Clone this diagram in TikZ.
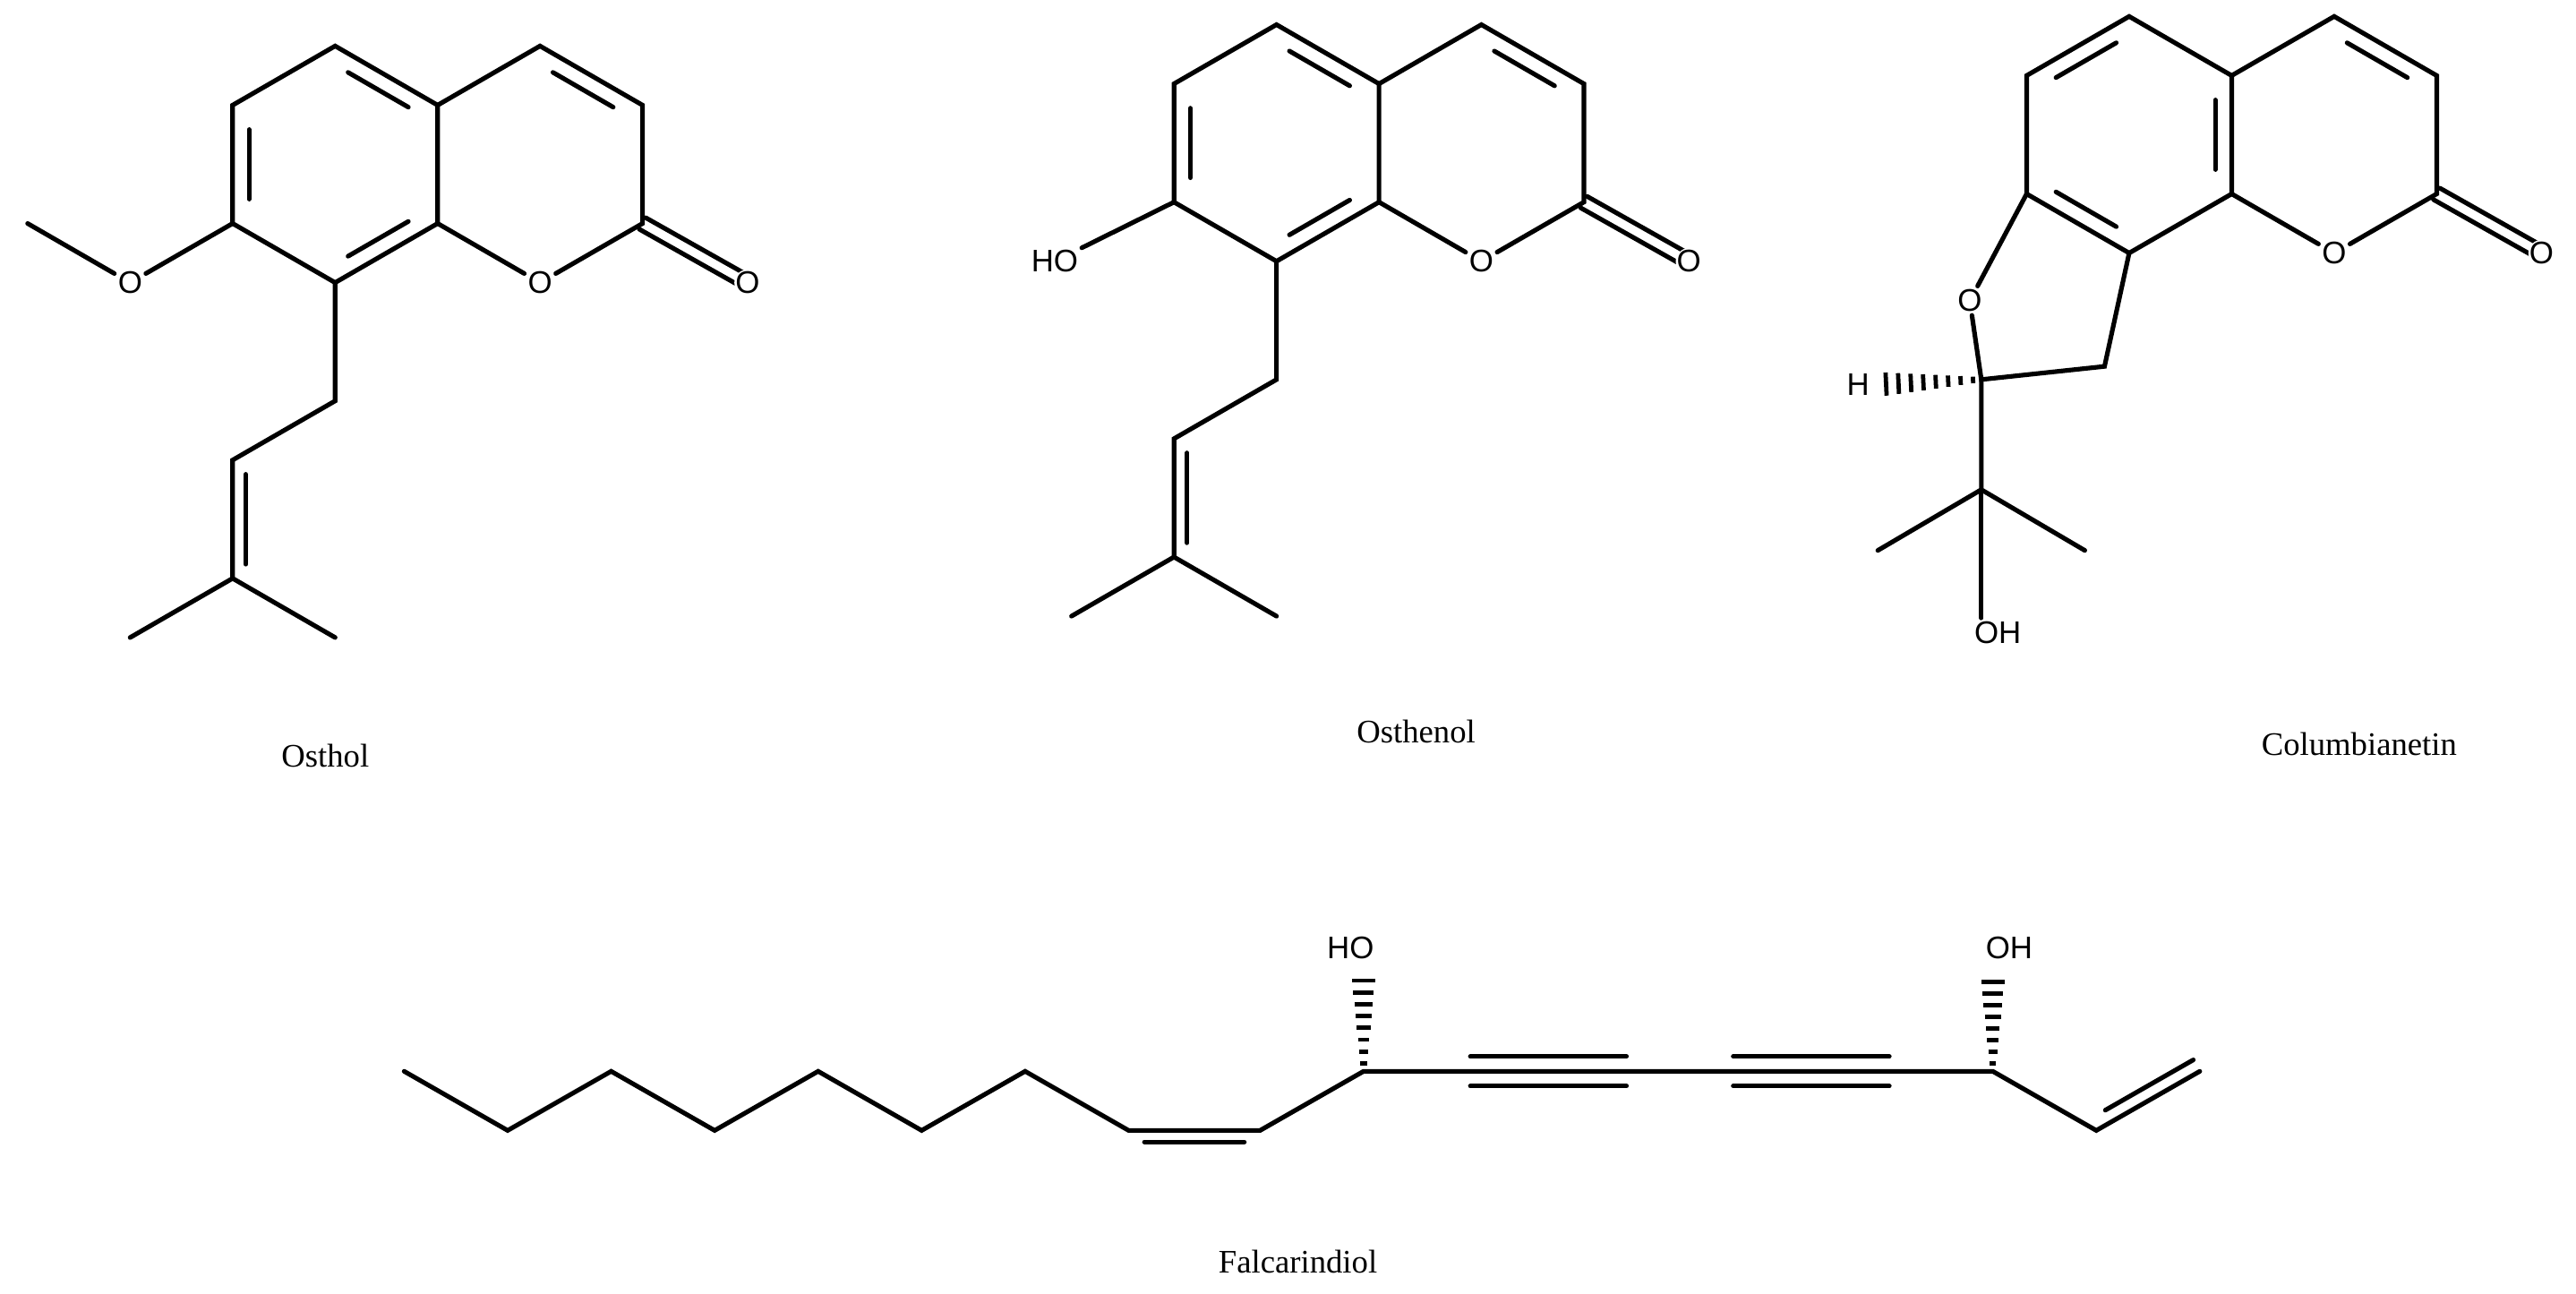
\documentclass[tikz,border=0pt]{standalone}
\usepackage{fontspec}
\setmainfont{Liberation Serif}
\newfontfamily\atomfont{Liberation Sans}
\usetikzlibrary{calc}
\tikzset{bond/.style={line width=2.8pt,line cap=round},
 atom/.style={font=\atomfont\fontsize{19}{19}\selectfont,inner sep=2pt},
 capt/.style={font=\fontsize{20}{20}\selectfont}}
\newcommand\innerb[3]{\path ($(#1)!.15!(#2)$) coordinate (tmpa) ($(#2)!.15!(#1)$) coordinate (tmpb);
 \draw[bond] ($(tmpa)!.16!(#3)$) -- ($(tmpb)!.16!(#3)$);}
\newcommand\hashw[2]{\foreach \t in {0.08,0.2,...,0.96}{\draw[line width=2.6pt] ($(#1)!\t!(#2)!{1.5pt+\t*6pt}!90:(#2)$) -- ($(#1)!\t!(#2)!{1.5pt+\t*6pt}!-90:(#2)$);}}
\begin{document}
\begin{tikzpicture}[x=1pt,y=-1pt]
\useasboundingbox (0,0) rectangle (1568,787);
\foreach \p/\dx/\dy in {os/0/0,oh/573/-13}{
\begin{scope}[shift={(\dx,\dy)}]
\coordinate (\p a1) at (204,28); \coordinate (\p a2) at (266.4,64);
\coordinate (\p a3) at (266.4,136); \coordinate (\p a4) at (204,172);
\coordinate (\p a5) at (141.6,136); \coordinate (\p a6) at (141.6,64);
\coordinate (\p c1) at (204,100); \coordinate (\p c2) at (328.7,100);
\coordinate (\p b1) at (328.7,28); \coordinate (\p b2) at (391.1,64);
\coordinate (\p b3) at (391.1,136);
\node[atom] (\p O1) at (328.7,172) {O};
\node[atom] (\p O2) at (455,172) {O};
\coordinate (\p p1) at (204,244); \coordinate (\p p2) at (141.6,280);
\coordinate (\p p3) at (141.6,352); \coordinate (\p m1) at (79.2,388); \coordinate (\p m2) at (204,388);
\draw[bond] (\p a1)--(\p a2)--(\p a3)--(\p a4)--(\p a5)--(\p a6)--cycle;
\draw[bond] (\p a2)--(\p b1)--(\p b2)--(\p b3)--(\p O1)--(\p a3);
\innerb{\p a5}{\p a6}{\p c1}\innerb{\p a1}{\p a2}{\p c1}\innerb{\p a3}{\p a4}{\p c1}
\innerb{\p b1}{\p b2}{\p c2}
\draw[bond] ($(\p b3)!4pt!90:(\p O2)$) -- ($(\p O2)!4pt!-90:(\p b3)$);
\draw[bond] ($(\p b3)!4pt!-90:(\p O2)$) -- ($(\p O2)!4pt!90:(\p b3)$);
\draw[bond] (\p a4)--(\p p1)--(\p p2)--(\p p3)--(\p m1) (\p p3)--(\p m2);
\draw[bond] ($(\p p2)!.12!(\p p3)!8pt!90:(\p p3)$) -- ($(\p p3)!.12!(\p p2)!8pt!-90:(\p p2)$);
\end{scope}}
\fill[white] (osO2) circle (8); \node[atom] at (osO2) {O};
\fill[white] (ohO2) circle (8); \node[atom] at (ohO2) {O};
\node[atom] (osOm) at (79.2,172) {O};
\coordinate (osMe) at (16.8,136);
\draw[bond] (osa5)--(osOm)--(osMe);
\node[atom] (ohOH) at (642,159) {HO};
\draw[bond] (oha5)--(ohOH);
\node[capt] (c1) at (198,460) {Osthol};
\node[capt] (c2) at (862,445) {Osthenol};
\node[capt] (c3) at (1436,453) {Columbianetin};
\node[capt] (c4) at (790,768) {Falcarindiol};
% Columbianetin
\coordinate (ca1) at (1296,10); \coordinate (ca2) at (1358.4,46);
\coordinate (ca3) at (1358.4,118); \coordinate (ca4) at (1296,154);
\coordinate (ca5) at (1233.6,118); \coordinate (ca6) at (1233.6,46);
\coordinate (cc1) at (1296,82); \coordinate (cc2) at (1420.8,82);
\coordinate (cb1) at (1420.8,10); \coordinate (cb2) at (1483.2,46); \coordinate (cb3) at (1483.2,118);
\node[atom] (cO1) at (1420.8,154) {O};
\node[atom] (cO2) at (1547,154) {O};
\node[atom] (cOf) at (1199,183) {O};
\coordinate (cC2) at (1206,231); \coordinate (cCH) at (1281,223);
\coordinate (cCq) at (1206,298); \coordinate (cMe1) at (1143,335); \coordinate (cMe2) at (1269,335);
\node[atom] (cOH) at (1216,385) {OH};
\node[atom] (cH) at (1131,234) {H};
\draw[bond] (ca1)--(ca2)--(ca3)--(ca4)--(ca5)--(ca6)--cycle;
\draw[bond] (ca2)--(cb1)--(cb2)--(cb3)--(cO1)--(ca3);
\innerb{ca6}{ca1}{cc1}\innerb{ca2}{ca3}{cc1}\innerb{ca4}{ca5}{cc1}\innerb{cb1}{cb2}{cc2}
\draw[bond] ($(cb3)!4pt!90:(cO2)$) -- ($(cO2)!4pt!-90:(cb3)$);
\draw[bond] ($(cb3)!4pt!-90:(cO2)$) -- ($(cO2)!4pt!90:(cb3)$);
\fill[white] (cO2) circle (8); \node[atom] at (cO2) {O};
\draw[bond] (ca5)--(cOf)--(cC2)--(cCH)--(ca4);
\draw[bond] (cC2)--(cCq)--(cMe1) (cCq)--(cMe2);
\draw[bond] (cCq)--(cCq|-cOH.north);
\coordinate (cHe) at (1143,234);
\hashw{cC2}{cHe}
% Falcarindiol
\foreach \i/\x/\y in {1/246/652,2/309/688,3/372/652,4/435/688,5/498/652,6/561/688,7/624/652,8/687/688,9/767/688,10/830/652,11/895/652,12/990/652,13/1055/652,14/1150/652,15/1213/652,16/1276/688,17/1339/652}
 {\coordinate (f\i) at (\x,\y);}
\draw[bond] (f1)--(f2)--(f3)--(f4)--(f5)--(f6)--(f7)--(f8)--(f9)--(f10)--(f15)--(f16)--(f17);
\draw[bond] ($(f8)!.12!(f9)!7pt!-90:(f9)$) -- ($(f9)!.12!(f8)!7pt!90:(f8)$);
\draw[bond] ($(f16)!.15!(f17)!8pt!90:(f17)$) -- ($(f17)!.0!(f16)!8pt!-90:(f16)$);
\draw[bond] ($(f11)+(0,-9)$) -- ($(f12)+(0,-9)$) ($(f11)+(0,9)$) -- ($(f12)+(0,9)$);
\draw[bond] ($(f13)+(0,-9)$) -- ($(f14)+(0,-9)$) ($(f13)+(0,9)$) -- ($(f14)+(0,9)$);
\node[atom] (fHO) at (822,577) {HO};
\node[atom] (fOH) at (1223,577) {OH};
\coordinate (fh1) at (830,592); \coordinate (fh2) at (1213,593);
\hashw{f10}{fh1}
\hashw{f15}{fh2}
\end{tikzpicture}
\end{document}
